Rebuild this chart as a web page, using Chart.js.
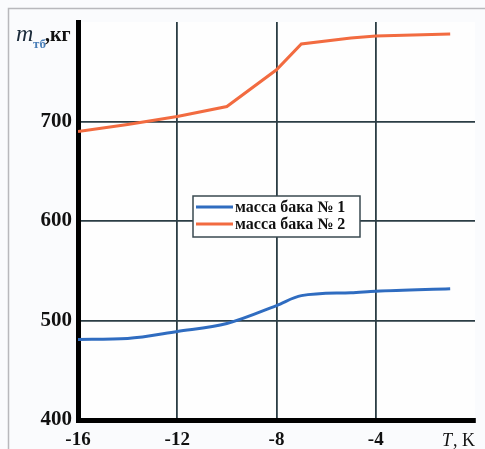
<!DOCTYPE html>
<html lang="ru">
<head>
    <meta charset="UTF-8">
    <title>Масса бака</title>
    <script src="https://cdn.jsdelivr.net/npm/chart.js"></script>
    <style>
        * { margin: 0; padding: 0; box-sizing: border-box; }
        body { background: #fafbfd; width: 485px; height: 449px; overflow: hidden; }
        #chart { display: block; }
    </style>
</head>
<body>
    <canvas id="chart" width="485" height="449"></canvas>
    <script>
        // температура, K
        const tempBak1 = [-16, -14, -12, -10, -8, -7, -5, -4, -1];
        const massBak1 = [481, 482, 489, 497, 515, 525, 528, 529.5, 532];
        const tempBak2 = [-16, -14, -12, -10, -8, -7, -5, -4, -1];
        const massBak2 = [690, 697, 705, 715, 752, 778, 784, 786, 788];
        const seriesNames = ["масса бака № 1", "масса бака № 2"];
        const xTicks = [-16, -12, -8, -4];
        const yTicks = [400, 500, 600, 700];

        const serif = "'Liberation Serif', 'DejaVu Serif', serif";
        const gridColor = "#2b3d44";

        // фон и рамка картинки, подписи осей, легенда
        const framePlugin = {
            id: "frame",
            beforeDraw(chart) {
                const c = chart.ctx;
                c.save();
                c.fillStyle = "#fafbfd";
                c.fillRect(0, 0, chart.width, chart.height);
                c.strokeStyle = "#b8b8bc";
                c.lineWidth = 1.5;
                c.beginPath();
                c.moveTo(8.5, chart.height);
                c.lineTo(8.5, 8.5);
                c.lineTo(chart.width, 8.5);
                c.stroke();
                const a = chart.chartArea;
                c.fillStyle = "#fefefe";
                c.fillRect(a.left, a.top, a.right - a.left, a.bottom - a.top);
                c.restore();
            },
            afterDraw(chart) {
                const c = chart.ctx;
                c.save();
                c.textBaseline = "alphabetic";
                // подпись оси Y
                c.fillStyle = "#1a2a3a";
                c.font = "italic 24px " + serif;
                c.fillText("m", 16, 41);
                c.fillStyle = "#4a7fb8";
                c.font = "bold 13px " + serif;
                c.fillText("тб", 33, 48);
                c.fillStyle = "#111";
                c.font = "bold 20px " + serif;
                c.fillText(",кг", 45, 41);
                // подпись оси X
                c.font = "italic 18px " + serif;
                c.fillText("T", 442, 446);
                c.font = "18px " + serif;
                c.fillText(", K", 453, 446);

                // легенда
                const lx = 193, ly = 196, lw = 167, lh = 41;
                c.fillStyle = "#ffffff";
                c.fillRect(lx, ly, lw, lh);
                c.strokeStyle = "#3a4a50";
                c.lineWidth = 1.5;
                c.strokeRect(lx, ly, lw, lh);
                chart.data.datasets.forEach((ds, i) => {
                    const y = ly + 11 + i * 17;
                    c.strokeStyle = ds.borderColor;
                    c.lineWidth = 3;
                    c.beginPath();
                    c.moveTo(lx + 3, y);
                    c.lineTo(lx + 40, y);
                    c.stroke();
                    c.fillStyle = "#111";
                    c.font = "bold 16px " + serif;
                    c.textBaseline = "middle";
                    c.fillText(ds.label, lx + 42, y + 1);
                });
                c.restore();
            }
        };

        new Chart(document.getElementById("chart"), {
            type: "scatter",
            data: {
                datasets: [{
                    label: seriesNames[0],
                    data: tempBak1.map((t, i) => ({ x: t, y: massBak1[i] })),
                    showLine: true,
                    borderColor: "#2f6cc0",
                    borderWidth: 3,
                    pointRadius: 0,
                    cubicInterpolationMode: "monotone"
                }, {
                    label: seriesNames[1],
                    data: tempBak2.map((t, i) => ({ x: t, y: massBak2[i] })),
                    showLine: true,
                    borderColor: "#f26b40",
                    borderWidth: 3,
                    pointRadius: 0,
                    tension: 0
                }]
            },
            options: {
                responsive: false,
                animation: false,
                layout: { padding: { left: 0, top: 22, right: 10, bottom: 0 } },
                plugins: {
                    legend: { display: false },
                    tooltip: { enabled: false }
                },
                scales: {
                    x: {
                        type: "linear",
                        min: -16,
                        max: 0,
                        afterFit: s => { s.height = 29; },
                        afterBuildTicks: s => {
                            s.ticks = xTicks.concat([0]).map(v => ({ value: v }));
                        },
                        grid: { color: gridColor, lineWidth: 1.8, drawTicks: false },
                        border: { color: "#000", width: 5 },
                        ticks: {
                            padding: 9,
                            color: "#111",
                            font: { family: serif, size: 19, weight: "bold" },
                            callback: v => (xTicks.includes(v) ? String(v) : null)
                        }
                    },
                    y: {
                        min: 400,
                        max: 800,
                        afterFit: s => { s.width = 78; },
                        afterBuildTicks: s => {
                            s.ticks = yTicks.concat([800]).map(v => ({ value: v }));
                        },
                        grid: { color: gridColor, lineWidth: 1.8, drawTicks: false },
                        border: { color: "#000", width: 5 },
                        ticks: {
                            padding: 6,
                            color: "#111",
                            font: { family: serif, size: 21, weight: "bold" },
                            callback: v => (yTicks.includes(v) ? String(v) : null)
                        }
                    }
                }
            },
            plugins: [framePlugin]
        });
    </script>
</body>
</html>
